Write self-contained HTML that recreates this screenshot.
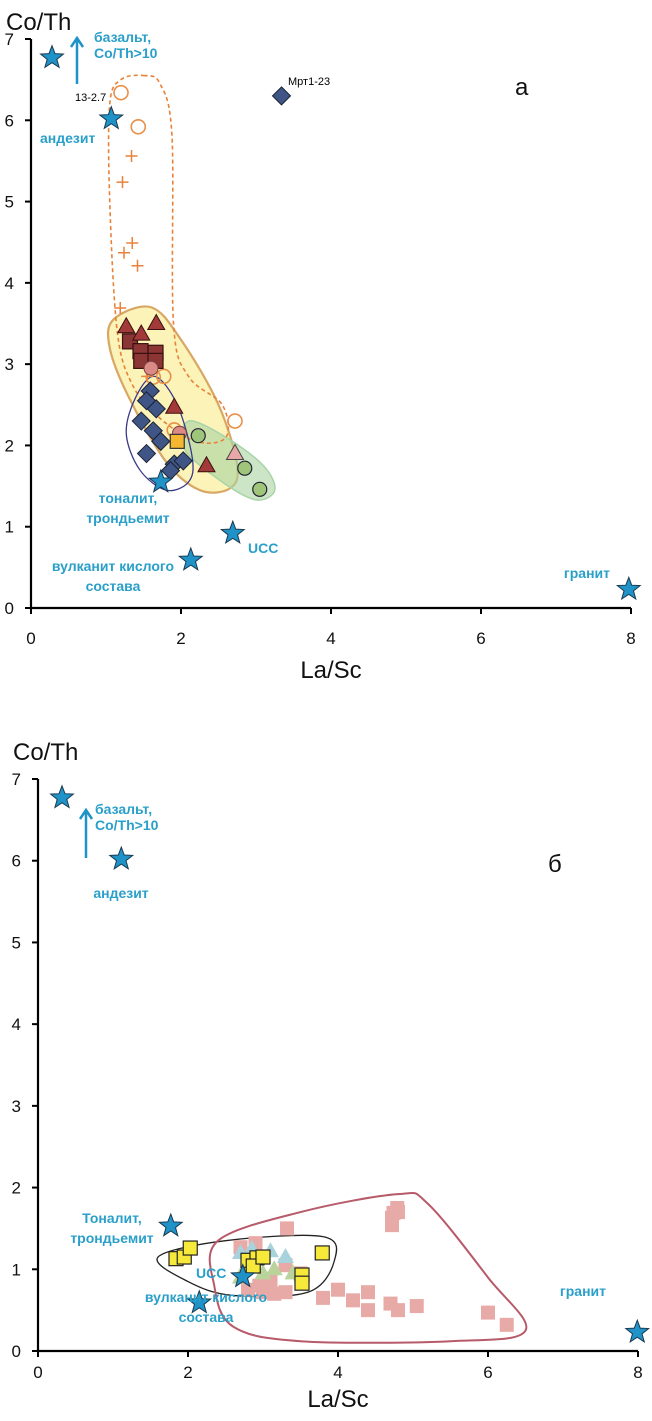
<!DOCTYPE html>
<html><head><meta charset="utf-8">
<style>
body{margin:0;background:#fff;}
svg{display:block;font-family:"Liberation Sans",sans-serif;}
.lbl{fill:#2a9fc9;font-weight:bold;font-size:14px;}
.tick{font-size:17px;fill:#111;}
.ttl{font-size:24px;fill:#111;}
</style></head>
<body>
<svg id="chart" width="652" height="1421" viewBox="0 0 652 1421" xmlns="http://www.w3.org/2000/svg"></svg>
<script>
// ---------- data: chart A ----------
const xTicks=[0,2,4,6,8];
const yTicks=[0,1,2,3,4,5,6,7];
const starsA=[[0.28,6.77],[1.07,6.02],[1.73,1.55],[2.69,0.92],[2.13,0.59],[7.97,0.23]];
const mrtDiamond=[[3.34,6.3]];
const openCirclesA=[[1.2,6.34],[1.43,5.92],[2.72,2.3],[1.77,2.85],[1.91,2.19],[1.63,2.84]];
const plusesA=[[1.34,5.56],[1.22,5.24],[1.35,4.49],[1.24,4.37],[1.42,4.21],[1.19,3.69],[1.55,2.85]];
const trianglesRedA=[[1.27,3.46],[1.67,3.5],[1.47,3.37],[1.91,2.47],[2.34,1.75]];
const squaresRedA=[[1.32,3.28],[1.46,3.16],[1.66,3.14],[1.47,3.04],[1.66,3.04]];
const pinkCirclesA=[[1.6,2.95],[1.98,2.15]];
const diamondsA=[[1.59,2.67],[1.54,2.55],[1.67,2.45],[1.47,2.3],[1.63,2.18],[1.73,2.05],[1.54,1.9],[1.91,1.77],[2.03,1.81],[1.86,1.69]];
const orangeSquaresA=[[1.95,2.05]];
const greenCirclesA=[[2.23,2.12],[2.85,1.72],[3.05,1.46]];
const pinkTrianglesA=[[2.72,1.9]];
// ---------- data: chart B ----------
const starsB=[[0.32,6.77],[1.11,6.02],[1.77,1.53],[2.73,0.91],[2.15,0.59],[7.99,0.23]];
const pinkSquaresB=[[3.32,1.5],[4.79,1.75],[4.74,1.69],[4.72,1.63],[4.72,1.54],[4.8,1.7],[3.8,0.65],[4.0,0.75],[4.2,0.62],[4.4,0.72],[4.4,0.5],[4.7,0.58],[4.8,0.5],[5.05,0.55],[6.0,0.47],[6.25,0.32],[2.7,1.27],[2.9,1.32],[3.0,0.72],[3.3,0.72],[3.5,0.95],[2.95,0.8],[3.1,0.85],[3.3,1.05],[2.8,0.75],[3.15,0.7]];
const blueTrianglesB=[[2.85,1.25],[3.1,1.22],[3.3,1.15],[2.7,1.2]];
const greenTrianglesB=[[2.7,0.9],[3.15,1.0],[3.4,0.95],[2.75,1.0],[3.0,0.95]];
const yellowSquaresB=[[1.84,1.13],[1.95,1.15],[2.03,1.26],[2.8,1.11],[2.92,1.14],[2.87,1.04],[3.79,1.2],[3.52,0.93],[3.52,0.83],[3.0,1.15]];

const NS="http://www.w3.org/2000/svg";
const svg=document.getElementById('chart');
function mk(tag,attrs,parent){const e=document.createElementNS(NS,tag);for(const k in attrs)e.setAttribute(k,attrs[k]);(parent||svg).appendChild(e);return e;}
function txt(x,y,s,cls,anchor,parent){const t=mk('text',{x:x,y:y,class:cls,'text-anchor':anchor||'start'},parent);t.textContent=s;return t;}

function makeAxes(x0,x8,y0,y7){
  return {x:v=>x0+v*(x8-x0)/8, y:v=>y0-v*(y0-y7)/7};
}
function starPath(cx,cy,r){let d='';for(let i=0;i<10;i++){const a=-Math.PI/2+i*Math.PI/5;const rr=i%2?r*0.42:r;d+=(i?'L':'M')+(cx+rr*Math.cos(a)).toFixed(1)+' '+(cy+rr*Math.sin(a)).toFixed(1);}return d+'Z';}
function smooth(pts){ // closed catmull-rom
  let d='M'+pts[0][0]+' '+pts[0][1];const n=pts.length;
  for(let i=0;i<n;i++){const p0=pts[(i-1+n)%n],p1=pts[i],p2=pts[(i+1)%n],p3=pts[(i+2)%n];
    d+=` C${p1[0]+(p2[0]-p0[0])/6} ${p1[1]+(p2[1]-p0[1])/6} ${p2[0]-(p3[0]-p1[0])/6} ${p2[1]-(p3[1]-p1[1])/6} ${p2[0]} ${p2[1]}`;}
  return d+'Z';
}
function outline(A,vals,attrs,name){const p=mk('path',Object.assign({d:smooth(vals.map(v=>[A.x(v[0]),A.y(v[1])]))},attrs));return p;}

function drawAxes(A,g,xLabelY,titleY,xTitleY,prefix){
  const ax=mk('g',{},g);
  
  
  mk('line',{x1:A.x(0),y1:A.y(0),x2:A.x(8),y2:A.y(0),stroke:'#000','stroke-width':2.2},ax);
  mk('line',{x1:A.x(0),y1:A.y(0),x2:A.x(0),y2:A.y(7),stroke:'#000','stroke-width':2.2},ax);
  xTicks.forEach(v=>{mk('line',{x1:A.x(v),y1:A.y(0),x2:A.x(v),y2:A.y(0)+6,stroke:'#000','stroke-width':2},ax);
    const t=txt(A.x(v),xLabelY,String(v),'tick','middle',ax);
    
    });
  yTicks.forEach(v=>{mk('line',{x1:A.x(0)-6,y1:A.y(v),x2:A.x(0),y2:A.y(v),stroke:'#000','stroke-width':2},ax);
    const t=txt(A.x(0)-17,A.y(v)+6,String(v),'tick','end',ax);
    
    });
  const yt=txt(A.x(0)-25,titleY,'Co/Th','ttl','start',ax);
  
  
  const xt=txt((A.x(0)+A.x(8))/2,xTitleY,'La/Sc','ttl','middle',ax);
  
  
}
function pts(A,arr,g,name,draw){arr.forEach(p=>{const e=draw(A.x(p[0]),A.y(p[1]),g);});}
const star=(x,y,g)=>mk('path',{d:starPath(x,y,12),fill:'#1f92c8',stroke:'#1a3a50','stroke-width':1},g);
const diamond=c=>(x,y,g)=>mk('path',{d:`M${x} ${y-9}L${x+9} ${y}L${x} ${y+9}L${x-9} ${y}Z`,fill:c,stroke:'#1b2233','stroke-width':1},g);
const square=(c,s,sw)=>(x,y,g)=>mk('rect',{x:x-s/2,y:y-s/2,width:s,height:s,fill:c,stroke:sw,'stroke-width':1.2},g);
const tri=(c,sw)=>(x,y,g)=>mk('path',{d:`M${x} ${y-9}L${x+8.5} ${y+6}L${x-8.5} ${y+6}Z`,fill:c,stroke:sw,'stroke-width':1},g);
const circ=(c,sw,f)=>(x,y,g)=>mk('circle',{cx:x,cy:y,r:7,fill:f,stroke:sw,'stroke-width':c},g);
const plus=(x,y,g)=>mk('path',{d:`M${x-6} ${y}H${x+6}M${x} ${y-6}V${y+6}`,stroke:'#e8823a','stroke-width':1.5},g);

function labels(A,g,list){list.forEach(l=>{const t=txt(l[0],l[1],l[2],'lbl',l[3]||'start',g);});}

// ---------- chart A ----------
const A=makeAxes(31,631,608,39);
const gA=mk('g',{});


outline(A,[[1.1,3.55],[1.6,3.7],[2.0,3.3],[2.5,2.5],[2.75,1.75],[2.65,1.47],[2.25,1.45],[1.8,1.8],[1.3,2.6],[1.05,3.2]],{fill:'#fbf3b8',stroke:'#d8a763','stroke-width':2.2},'yellow-field-outline').parentNode||0;
gA.appendChild(svg.lastChild);
outline(A,[[2.1,2.3],[2.6,2.1],[3.1,1.75],[3.25,1.45],[3.0,1.33],[2.55,1.55],[2.05,1.95]],{fill:'rgba(168,212,160,0.6)',stroke:'#a8d4a8','stroke-width':1.5},'green-field-outline');
gA.appendChild(svg.lastChild);
outline(A,[[1.5,6.55],[1.72,6.45],[1.88,5.8],[1.9,3.5],[2.1,2.85],[2.55,2.5],[2.6,2.1],[2.2,2.05],[1.7,2.35],[1.35,2.75],[1.15,3.4],[1.05,5.0],[1.05,6.2],[1.2,6.5]],{fill:'none',stroke:'#e8823a','stroke-width':1.6,'stroke-dasharray':'4 3'},'dashed-orange-outline');
gA.appendChild(svg.lastChild);
outline(A,[[1.65,2.85],[1.4,2.6],[1.27,2.15],[1.45,1.7],[1.8,1.45],[2.1,1.55],[2.15,1.85],[1.95,2.5]],{fill:'none',stroke:'#3b3a8a','stroke-width':1.3},'navy-outline');
gA.appendChild(svg.lastChild);
drawAxes(A,gA,644,30,678,'chart-a');
pts(A,plusesA,gA,'plus-point',plus);
pts(A,openCirclesA,gA,'open-circle-point',circ(1.6,'#e8904a','none'));
pts(A,squaresRedA,gA,'dark-red-square',square('#8b3535',15,'#3a1010'));
pts(A,trianglesRedA,gA,'dark-red-triangle',tri('#a33a3a','#3a1010'));
pts(A,diamondsA,gA,'navy-diamond',diamond('#3f5585'));
pts(A,mrtDiamond,gA,'mrt1-23-diamond',diamond('#3f5585'));
pts(A,pinkCirclesA,gA,'pink-circle',circ(1,'#7a4040','#dc8a86'));
pts(A,orangeSquaresA,gA,'orange-square',square('#f5b730',14,'#333'));
pts(A,greenCirclesA,gA,'green-circle',circ(1.2,'#223','#9fc57a'));
pts(A,pinkTrianglesA,gA,'pink-triangle',tri('#e8a7a7','#444'));
pts(A,starsA,gA,'reference-star',star);
mk('path',{d:'M77 84V40M71 47L77 38L83 47',stroke:'#1f92c8','stroke-width':2.5,fill:'none'},gA);
labels(A,gA,[[94,42,'базальт,','start','basalt-label'],[94,58,'Co/Th>10','start','basalt-note'],[40,143,'андезит','start','andesite-label'],[128,503,'тоналит,','middle','tonalite-label'],[128,523,'трондьемит','middle','trondhjemite-label'],[248,553,'UCC','start','ucc-label'],[113,571,'вулканит кислого','middle','felsic-volcanic-label'],[113,591,'состава','middle','felsic-volcanic-label-2'],[610,578,'гранит','end','granite-label']]);
const t1=txt(75,101,'13-2.7','','start',gA);t1.setAttribute('font-size','11');


const t2=txt(288,85,'Мрт1-23','','start',gA);t2.setAttribute('font-size','11');


const pa=txt(515,95,'а','ttl','start',gA);pa.setAttribute('font-size','28');



// ---------- chart B ----------
const B=makeAxes(38,638,1351,779);
const gB=mk('g',{});


drawAxes(B,gB,1378,760,1407,'chart-b');
outline(B,[[2.5,1.35],[3.8,1.4],[3.95,1.1],[3.6,0.72],[2.6,0.68],[2.0,0.85],[1.6,1.15]],{fill:'none',stroke:'#222','stroke-width':1.3},'black-outline');
gB.appendChild(svg.lastChild);
pts(B,pinkSquaresB,gB,'pink-square',square('#e8aaa6',14,'none'));
pts(B,blueTrianglesB,gB,'light-blue-triangle',tri('#a9d3dc','none'));
pts(B,greenTrianglesB,gB,'green-triangle',tri('#b9d39a','none'));
pts(B,yellowSquaresB,gB,'yellow-square',square('#f7e93a',14,'#222'));
outline(B,[[2.4,1.35],[3.5,1.7],[4.8,1.92],[5.2,1.8],[6.0,0.9],[6.5,0.25],[5.5,0.12],[3.5,0.12],[2.6,0.3],[2.35,0.8]],{fill:'none',stroke:'#b75a6a','stroke-width':2},'red-outline');
gB.appendChild(svg.lastChild);
pts(B,starsB,gB,'reference-star',star);
mk('path',{d:'M86 858V812M80 819L86 810L92 819',stroke:'#1f92c8','stroke-width':2.5,fill:'none'},gB);
labels(B,gB,[[95,814,'базальт,','start','basalt-label'],[95,830,'Co/Th>10','start','basalt-note'],[121,898,'андезит','middle','andesite-label'],[112,1223,'Тоналит,','middle','tonalite-label'],[112,1243,'трондьемит','middle','trondhjemite-label'],[196,1278,'UCC','start','ucc-label'],[206,1302,'вулканит кислого','middle','felsic-volcanic-label'],[206,1322,'состава','middle','felsic-volcanic-label-2'],[606,1296,'гранит','end','granite-label']]);
const pb=txt(548,872,'б','ttl','start',gB);pb.setAttribute('font-size','28');


</script>
</body></html>
